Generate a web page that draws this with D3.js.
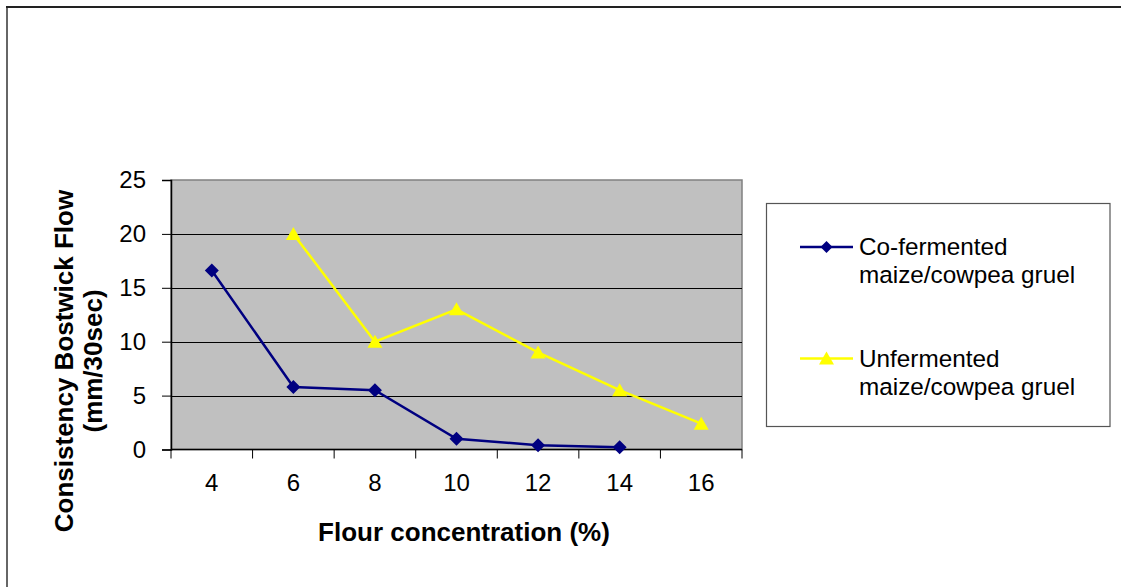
<!DOCTYPE html>
<html>
<head>
<meta charset="utf-8">
<script src="https://cdn.jsdelivr.net/npm/d3@7"></script>
<style>
  html, body { margin: 0; padding: 0; background: #fff; }
  svg { display: block; font-family: "Liberation Sans", Arial, sans-serif; }
</style>
</head>
<body>
<svg id="chart" width="1121" height="587"></svg>
<script>
// Flour concentration categories (%)
const categories = ["4", "6", "8", "10", "12", "14", "16"];
// Bostwick flow (mm/30sec) per concentration; null = not measured
const coFermented = [16.6, 5.8, 5.5, 1.0, 0.4, 0.2, null];
const unfermented = [null, 20.0, 10.0, 13.0, 9.0, 5.5, 2.4];
const yTicks = [0, 5, 10, 15, 20, 25];
const seriesNames = [
  ["Co-fermented", "maize/cowpea gruel"],
  ["Unfermented", "maize/cowpea gruel"]
];

const svg = d3.select("#chart");

// outer frame (left and top edges visible)
svg.append("line").attr("x1", 7).attr("x2", 7).attr("y1", 6).attr("y2", 587)
  .attr("stroke", "#666").attr("stroke-width", 2);
svg.append("line").attr("x1", 6).attr("x2", 1121).attr("y1", 7).attr("y2", 7)
  .attr("stroke", "#222").attr("stroke-width", 2);

const plot = { left: 171, right: 742, top: 180, bottom: 449.5 };

const x = d3.scaleBand().domain(categories).range([plot.left, plot.right]);
const y = d3.scaleLinear().domain([0, 25]).range([plot.bottom, plot.top]);

// plot background
svg.append("rect")
  .attr("x", plot.left).attr("y", plot.top)
  .attr("width", plot.right - plot.left).attr("height", plot.bottom - plot.top)
  .attr("fill", "#c0c0c0").attr("stroke", "#808080").attr("stroke-width", 1.5);

// horizontal gridlines
svg.append("g").selectAll("line")
  .data(yTicks.filter(t => t > 0 && t < 25))
  .join("line")
  .attr("x1", plot.left).attr("x2", plot.right)
  .attr("y1", d => Math.round(y(d)) + 0.5).attr("y2", d => Math.round(y(d)) + 0.5)
  .attr("stroke", "#000").attr("stroke-width", 1);

// y axis
const yAxis = svg.append("g")
  .attr("transform", `translate(${plot.left},0)`)
  .call(d3.axisLeft(y).tickValues(yTicks).tickSize(9).tickPadding(16));
yAxis.select(".domain").attr("stroke", "#000").attr("stroke-width", 1.5);
yAxis.selectAll(".tick line").attr("stroke", "#000");
yAxis.selectAll(".tick text")
  .attr("font-size", 24).attr("fill", "#000")
  .attr("font-family", "Liberation Sans, Arial, sans-serif");

// x axis: ticks at band boundaries, labels at band centres
const xAxisG = svg.append("g").attr("transform", `translate(0,${plot.bottom})`);
xAxisG.append("line").attr("x1", plot.left).attr("x2", plot.right)
  .attr("y1", 0).attr("y2", 0).attr("stroke", "#000").attr("stroke-width", 1.5);
const bounds = categories.map(c => x(c)).concat([x(categories[categories.length - 1]) + x.bandwidth()]);
xAxisG.selectAll("line.tk").data(bounds).join("line").attr("class", "tk")
  .attr("x1", d => d).attr("x2", d => d).attr("y1", 0).attr("y2", 9)
  .attr("stroke", "#000").attr("stroke-width", 1);
xAxisG.selectAll("text").data(categories).join("text")
  .attr("x", d => x(d) + x.bandwidth() / 2).attr("y", 41)
  .attr("text-anchor", "middle").attr("font-size", 24).attr("fill", "#000")
  .text(d => d);

const cx = c => x(c) + x.bandwidth() / 2;

function drawSeries(values, color, marker) {
  const pts = categories.map((c, i) => ({ c, v: values[i] })).filter(d => d.v != null);
  const line = d3.line().x(d => cx(d.c)).y(d => y(d.v));
  svg.append("path").datum(pts).attr("d", line)
    .attr("fill", "none").attr("stroke", color).attr("stroke-width", 2.5);
  svg.append("g").selectAll("path").data(pts).join("path")
    .attr("transform", d => `translate(${cx(d.c)},${y(d.v)})`)
    .attr("d", marker).attr("fill", color);
}

const diamond = "M0,-7L7,0L0,7L-7,0Z";
const triangle = "M0,-7L7.5,6L-7.5,6Z";

drawSeries(unfermented, "#ffff00", triangle);
drawSeries(coFermented, "#000080", diamond);

// axis titles
svg.append("text")
  .attr("x", 464).attr("y", 541)
  .attr("text-anchor", "middle").attr("font-size", 26).attr("font-weight", "bold")
  .text("Flour concentration (%)");

const yTitle = svg.append("text")
  .attr("transform", "translate(73,361) rotate(-90)")
  .attr("text-anchor", "middle").attr("font-size", 26).attr("font-weight", "bold");
yTitle.append("tspan").attr("x", 0).attr("y", 0).text("Consistency Bostwick Flow");
yTitle.append("tspan").attr("x", 0).attr("y", 29).text("(mm/30sec)");

// legend
const lg = svg.append("g");
lg.append("rect").attr("x", 766.5).attr("y", 203.5).attr("width", 343.5).attr("height", 223)
  .attr("fill", "#fff").attr("stroke", "#555").attr("stroke-width", 1.2);

const legendItems = [
  { name: seriesNames[0], color: "#000080", marker: "M0,-6L6,0L0,6L-6,0Z", ly: 247 },
  { name: seriesNames[1], color: "#ffff00", marker: "M0,-7L7.5,6L-7.5,6Z", ly: 358.5 }
];
legendItems.forEach(it => {
  lg.append("line").attr("x1", 800).attr("x2", 853).attr("y1", it.ly).attr("y2", it.ly)
    .attr("stroke", it.color).attr("stroke-width", 2.5);
  lg.append("path").attr("transform", `translate(826.5,${it.ly})`)
    .attr("d", it.marker).attr("fill", it.color);
  const t = lg.append("text").attr("font-size", 24.3).attr("fill", "#000");
  t.append("tspan").attr("x", 859).attr("y", it.ly + 8).text(it.name[0]);
  t.append("tspan").attr("x", 859).attr("y", it.ly + 36).text(it.name[1]);
});
</script>
</body>
</html>
